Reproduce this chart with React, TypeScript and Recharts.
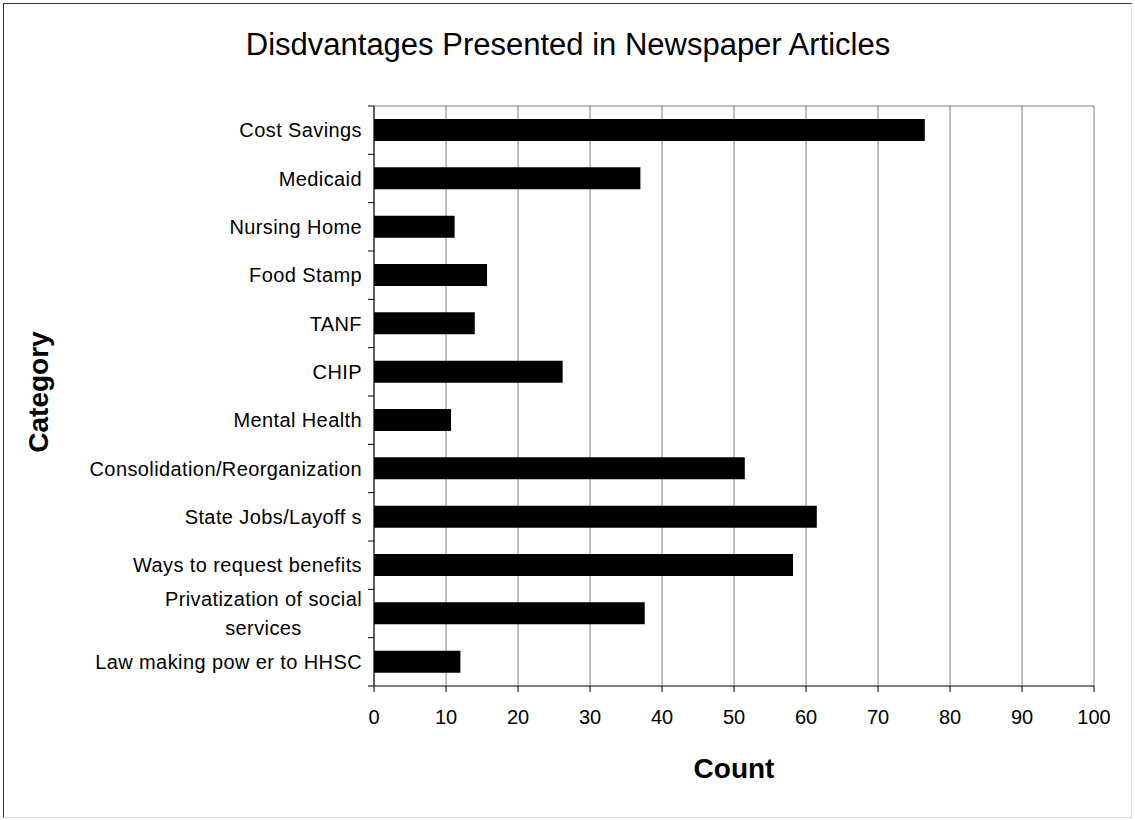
import React, { useLayoutEffect, useRef, useState } from 'react';
import { BarChart, Bar, XAxis, YAxis, CartesianGrid } from 'recharts';

// values
const categories = [
  'Cost Savings',
  'Medicaid',
  'Nursing Home',
  'Food Stamp',
  'TANF',
  'CHIP',
  'Mental Health',
  'Consolidation/Reorganization',
  'State Jobs/Layoff s',
  'Ways to request benefits',
  'Privatization of social\nservices',
  'Law making pow er to HHSC',
];
const counts = [76.5, 37, 11.2, 15.7, 14, 26.2, 10.7, 51.5, 61.5, 58.2, 37.6, 12];
const countTicks = [0, 10, 20, 30, 40, 50, 60, 70, 80, 90, 100];

const data = categories.map((category, i) => ({ category, count: counts[i] }));

const W = 1135;
const H = 820;
const MARGIN = { top: 106, right: 41, bottom: 44, left: 0 };
const X_AXIS_H = 90;
const Y_AXIS_W = 374;
const FONT = '"Liberation Sans", Arial, sans-serif';
const HALF_BAND = (H - MARGIN.top - MARGIN.bottom - X_AXIS_H) / categories.length / 2;

const CategoryTick = (props: any) => {
  const { y, payload, index } = props;
  const ref = useRef<SVGGElement>(null);
  const [w, setW] = useState(0);
  const lines = String(payload.value).split('\n');

  useLayoutEffect(() => {
    if (!ref.current) return;
    let m = 0;
    ref.current.querySelectorAll('text').forEach((t) => {
      m = Math.max(m, (t as SVGTextElement).getComputedTextLength());
    });
    setW(m);
  }, [payload.value]);

  const right = Y_AXIS_W - 12;
  const multi = lines.length > 1;
  const lineH = 29;
  const first = y + 7 - ((lines.length - 1) * lineH) / 2;

  return (
    <g>
      <line x1={Y_AXIS_W - 6} x2={Y_AXIS_W} y1={y - HALF_BAND} y2={y - HALF_BAND} stroke="#000" />
      {index === categories.length - 1 && (
        <line x1={Y_AXIS_W - 6} x2={Y_AXIS_W} y1={y + HALF_BAND} y2={y + HALF_BAND} stroke="#000" />
      )}
      <g ref={ref}>
        {lines.map((ln, i) => (
          <text
            key={i}
            x={multi ? right - w / 2 : right}
            y={first + i * lineH}
            textAnchor={multi ? 'middle' : 'end'}
            fontSize={20}
            letterSpacing={0.4}
            fontFamily={FONT}
            fill="#000"
          >
            {ln}
          </text>
        ))}
      </g>
    </g>
  );
};

const countLabel = (props: any) => {
  const vb = props.viewBox;
  return (
    <text
      x={vb.x + vb.width / 2}
      y={vb.y + 92}
      textAnchor="middle"
      fontSize={28}
      fontWeight="bold"
      fontFamily={FONT}
      fill="#000"
    >
      Count
    </text>
  );
};

const categoryLabel = (props: any) => {
  const vb = props.viewBox;
  const cy = vb.y + vb.height / 2 - 4;
  const bx = 48;
  return (
    <text
      x={bx}
      y={cy}
      transform={`rotate(-90 ${bx} ${cy})`}
      textAnchor="middle"
      fontSize={28}
      fontWeight="bold"
      fontFamily={FONT}
      fill="#000"
    >
      Category
    </text>
  );
};

export default function App() {
  return (
    <div style={{ position: 'absolute', left: 0, top: 0, width: W, height: H, background: '#fff' }}>
      <div
        style={{
          position: 'absolute',
          left: 3,
          top: 3,
          width: W - 6,
          height: H - 5,
          borderLeft: '1.5px solid #333',
          borderTop: '1.5px solid #333',
          borderRight: '1px solid #ddd',
          borderBottom: '1px solid #ddd',
          boxSizing: 'border-box',
        }}
      />
      <div
        style={{
          position: 'absolute',
          left: 0,
          top: 29,
          width: 1136,
          textAlign: 'center',
          fontFamily: FONT,
          fontSize: 31,
          lineHeight: '31px',
          color: '#000',
          whiteSpace: 'nowrap',
        }}
      >
        Disdvantages Presented in Newspaper Articles
      </div>
      <div style={{ position: 'absolute', left: 0, top: 0 }}>
        <BarChart width={W} height={H} data={data} layout="vertical" margin={MARGIN}>
          <CartesianGrid
            stroke="#808080"
            horizontalCoordinatesGenerator={({ offset }: any) => [offset.top]}
          />
          <XAxis
            type="number"
            domain={[0, 100]}
            ticks={countTicks}
            interval={0}
            tickSize={6}
            tickMargin={18}
            height={X_AXIS_H}
            axisLine={{ stroke: '#000' }}
            tickLine={{ stroke: '#000' }}
            tick={{ fill: '#000', fontSize: 20, fontFamily: FONT }}
            label={{ content: countLabel }}
          />
          <YAxis
            type="category"
            dataKey="category"
            width={Y_AXIS_W}
            interval={0}
            axisLine={{ stroke: '#000' }}
            tickLine={false}
            tick={<CategoryTick />}
            label={{ content: categoryLabel }}
          />
          <Bar dataKey="count" fill="#000" barSize={22} isAnimationActive={false} />
        </BarChart>
      </div>
    </div>
  );
}
